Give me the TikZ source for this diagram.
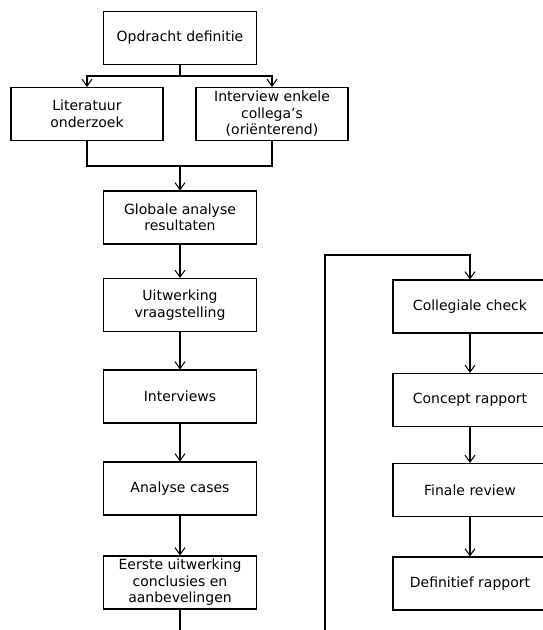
\documentclass[tikz,border=0pt]{standalone}
\usepackage{fontspec}
\setmainfont{DejaVu Sans}
\usetikzlibrary{arrows.meta}
\begin{document}
\begin{tikzpicture}[x=1pt,y=-1pt,
  box/.style={draw,line width=1.1pt,minimum width=153pt,minimum height=53pt,align=center,font=\fontsize{14}{16.5}\selectfont,inner sep=1pt},
  conn/.style={line width=1.1pt},
  arr/.style={conn,-{Straight Barb[length=7pt,width=10pt,line width=1pt]}}]
\useasboundingbox (0,0) rectangle (542,630);
\node[box] (opd) at (180,38) {Opdracht definitie};
\node[box,minimum width=152pt] (lit) at (87,114) {Literatuur\\onderzoek};
\node[box,minimum width=152pt] (int) at (272,114) {Interview enkele\\collega’s\\(oriënterend)};
\node[box] (glo) at (180,217.5) {Globale analyse\\resultaten};
\node[box] (uit) at (180,305) {Uitwerking\\vraagstelling};
\node[box] (ivw) at (180,396.5) {Interviews};
\node[box] (ana) at (180,488.5) {Analyse cases};
\node[box] (eer) at (180,582.5) {Eerste uitwerking\\conclusies en\\aanbevelingen};
\node[box,minimum width=154pt] (col) at (470,306.5) {Collegiale check};
\node[box,minimum width=154pt] (con) at (470,400) {Concept rapport};
\node[box,minimum width=154pt] (fin) at (470,490) {Finale review};
\node[box,minimum width=154pt] (def) at (470,583.5) {Definitief rapport};
\coordinate (j1) at (180,76);
\coordinate (j2) at (180,166);
\coordinate (eend) at (180,631);
\coordinate (fb) at (325,631);
\draw[conn] (opd.south) -- (j1);
\draw[arr] (j1) -| (lit.north);
\draw[arr] (j1) -| (int.north);
\draw[conn] (lit.south) |- (j2);
\draw[conn] (int.south) |- (j2);
\draw[arr] (j2) -- (glo.north);
\draw[arr] (glo) -- (uit);
\draw[arr] (uit) -- (ivw);
\draw[arr] (ivw) -- (ana);
\draw[arr] (ana) -- (eer);
\draw[conn] (eer.south) -- (eend);
\draw[arr] (fb) |- (325,255) -| (col.north);
\draw[arr] (col) -- (con);
\draw[arr] (con) -- (fin);
\draw[arr] (fin) -- (def);
\end{tikzpicture}
\end{document}
